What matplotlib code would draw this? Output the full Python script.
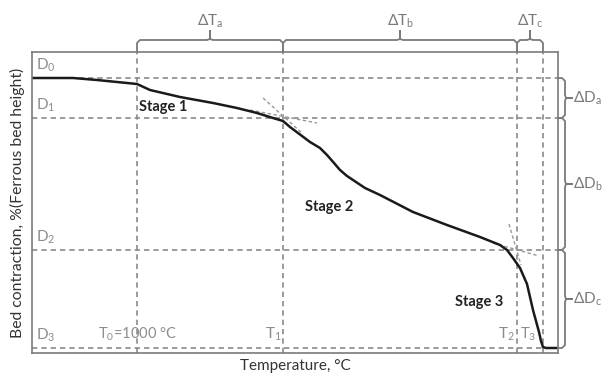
import numpy as np
import matplotlib
matplotlib.use("Agg")
import matplotlib.pyplot as plt

plt.rcParams['font.family'] = ['Lato', 'DejaVu Sans']
plt.rcParams['mathtext.default'] = 'regular'

# curve (x: temperature position, y: contraction, downward)
temp = [0, 41, 65, 105, 118, 148, 181, 205, 225, 241, 251, 258, 278, 288, 295,
        302, 308, 315, 321, 333, 348, 381, 415, 448, 468, 475, 481, 488, 495,
        501, 507, 509, 511, 514, 526]
contraction = [26, 26, 28, 32, 38, 45, 51, 56, 61, 66, 69, 75, 90, 96, 103,
               111, 118, 124, 128, 136, 143, 160, 173, 185, 193, 198, 206, 216,
               232, 258, 280, 289, 295, 296, 296]

# characteristic levels and temperatures
d_levels = [26, 66, 198, 296]
d_names = ['D$_0$', 'D$_1$', 'D$_2$', 'D$_3$']
t_marks = [105, 251, 485, 511]
t_names = ['T$_0$=1000 °C', 'T$_1$', 'T$_2$', 'T$_3$']

# tangent construction lines
tangents = [
    ([231, 271], [46, 82]),
    ([218, 285], [58, 71]),
    ([477, 489], [172, 213]),
    ([461, 507], [191, 204]),
]

stages = ['Stage 1', 'Stage 2', 'Stage 3']
stage_pos = [(107, 55), (273, 155), (423, 250)]

dt_names = ['ΔT$_a$', 'ΔT$_b$', 'ΔT$_c$']
dd_names = ['ΔD$_a$', 'ΔD$_b$', 'ΔD$_c$']

W, H = 610, 374
fig = plt.figure(figsize=(W / 100, H / 100), dpi=100)
ax = fig.add_axes([32 / W, (H - 353) / H, 526 / W, 301 / H])
ax.set_xlim(0, 526)
ax.set_ylim(301, 0)
ax.set_xticks([])
ax.set_yticks([])
for s in ax.spines.values():
    s.set_color('#7a7a7a')
    s.set_linewidth(1.2)

grey = '#8a8a8a'
txt = '#8c8c8c'
dash = (0, (3.2, 2.4))

for y, name in zip(d_levels, d_names):
    ax.axhline(y, color=grey, lw=1.2, ls=dash)
    ax.text(4, y - 4, name, color=txt, fontsize=11, ha='left', va='bottom')

for x in t_marks:
    ax.axvline(x, color=grey, lw=1.2, ls=dash)

ax.text(66, 291, t_names[0], color=txt, fontsize=10.5, ha='left', va='bottom')
ax.text(t_marks[1] - 1, 291, t_names[1], color=txt, fontsize=11, ha='right', va='bottom')
ax.text(t_marks[2] - 2, 291, t_names[2], color=txt, fontsize=11, ha='right', va='bottom')
ax.text(t_marks[3] - 7, 291, t_names[3], color=txt, fontsize=10.5, ha='right', va='bottom')

for xs, ys in tangents:
    ax.plot(xs, ys, color='#999999', lw=1.0, ls=(0, (2.5, 1.8)))

ax.plot(temp, contraction, color='#1a1a1a', lw=1.8, solid_capstyle='round',
        solid_joinstyle='round')

for name, (x, y) in zip(stages, stage_pos):
    ax.text(x, y, name, fontsize=10.5, fontweight='bold', color='#222222',
            ha='left', va='center')


def hbrace(x1, x2, label):
    xm = (x1 + x2) / 2
    base, line, tip = 0, -12, -21
    r = 3
    xs = [x1, x1, x1 + r, xm - r, xm, xm, xm, xm + r, x2 - r, x2, x2]
    ys = [base, line + r, line, line, line - 1, tip, line - 1, line, line, line + r, base]
    ax.plot(xs, ys, color='#7a7a7a', lw=1.3, clip_on=False)
    ax.text(xm, tip - 1, label, fontsize=11, color='#7a7a7a', ha='center', va='bottom')


def vbrace(y1, y2, label):
    ym = (y1 + y2) / 2
    base, line, tip = 526, 533, 540
    r = 3
    xs = [base, line - r, line, line, line + 1, tip, line + 1, line, line, line - r, base]
    ys = [y1, y1, y1 + r, ym - r, ym, ym, ym, ym + r, y2 - r, y2, y2]
    ax.plot(xs, ys, color='#7a7a7a', lw=1.3, clip_on=False)
    ax.text(tip + 1, ym, label, fontsize=11, color='#7a7a7a', ha='left', va='center')


hbrace(t_marks[0], t_marks[1], dt_names[0])
hbrace(t_marks[1], t_marks[2], dt_names[1])
hbrace(t_marks[2], t_marks[3], dt_names[2])

vbrace(d_levels[0], d_levels[1], dd_names[0])
vbrace(d_levels[1], d_levels[2], dd_names[1])
vbrace(d_levels[2], d_levels[3], dd_names[2])

ax.set_xlabel('Temperature, °C', fontsize=11, color='#333333', labelpad=4)
ax.set_ylabel('Bed contraction, %(Ferrous bed height)', fontsize=11.3,
              color='#333333', labelpad=5)

fig.savefig('out.png', dpi=100)
